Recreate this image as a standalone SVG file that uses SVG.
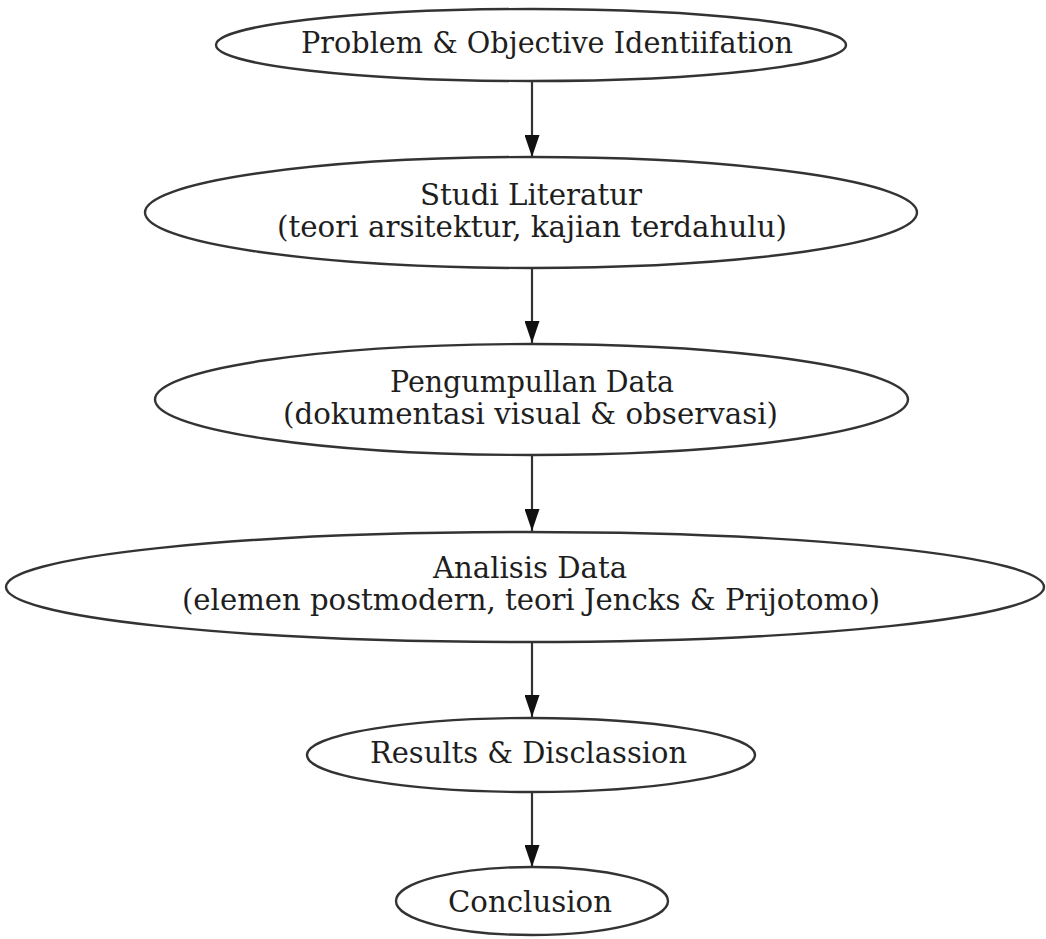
<svg xmlns="http://www.w3.org/2000/svg" width="1046" height="939" viewBox="0 0 1046 939">
<style>
.node ellipse{fill:#fff;stroke:#333;stroke-width:2.4}
.node text{font-family:"DejaVu Serif","Liberation Serif",serif;font-size:29px;fill:#1e1e1e}
.edges line{stroke:#333;stroke-width:2.2}
</style>
<defs>
<marker id="ah" markerUnits="userSpaceOnUse" markerWidth="22" markerHeight="15" refX="22" refY="7.5" orient="auto" viewBox="0 0 22 15">
<path d="M0,0 L22,7.5 L0,15 Z" fill="#111"/>
</marker>
</defs>
<rect width="1046" height="939" fill="#fff"/>
<g class="edges">
<line x1="532" y1="81" x2="532" y2="157" marker-end="url(#ah)"/>
<line x1="532" y1="268" x2="532" y2="343" marker-end="url(#ah)"/>
<line x1="532" y1="455" x2="532" y2="531" marker-end="url(#ah)"/>
<line x1="532" y1="642" x2="532" y2="717" marker-end="url(#ah)"/>
<line x1="532" y1="792" x2="532" y2="867" marker-end="url(#ah)"/>
</g>
<g id="n1" class="node">
<ellipse cx="531" cy="45" rx="315" ry="36"/>
<text x="301" y="53" textLength="492" lengthAdjust="spacingAndGlyphs">Problem &amp; Objective Identiifation</text>
</g>
<g id="n2" class="node">
<ellipse cx="531" cy="212.5" rx="386" ry="55.5"/>
<text x="420" y="205" textLength="222" lengthAdjust="spacingAndGlyphs">Studi Literatur</text>
<text x="277" y="237" textLength="510" lengthAdjust="spacingAndGlyphs">(teori arsitektur, kajian terdahulu)</text>
</g>
<g id="n3" class="node">
<ellipse cx="531.5" cy="399.5" rx="376.5" ry="55.5"/>
<text x="390" y="392" textLength="284" lengthAdjust="spacingAndGlyphs">Pengumpullan Data</text>
<text x="283" y="424" textLength="495" lengthAdjust="spacingAndGlyphs">(dokumentasi visual &amp; observasi)</text>
</g>
<g id="n4" class="node">
<ellipse cx="525" cy="587" rx="519" ry="55"/>
<text x="433" y="578" textLength="194" lengthAdjust="spacingAndGlyphs">Analisis Data</text>
<text x="182" y="610" textLength="698" lengthAdjust="spacingAndGlyphs">(elemen postmodern, teori Jencks &amp; Prijotomo)</text>
</g>
<g id="n5" class="node">
<ellipse cx="531" cy="755" rx="224" ry="37"/>
<text x="370" y="763" textLength="317" lengthAdjust="spacingAndGlyphs">Results &amp; Disclassion</text>
</g>
<g id="n6" class="node">
<ellipse cx="532" cy="901" rx="136" ry="34"/>
<text x="448" y="912" textLength="164" lengthAdjust="spacingAndGlyphs">Conclusion</text>
</g>
</svg>
